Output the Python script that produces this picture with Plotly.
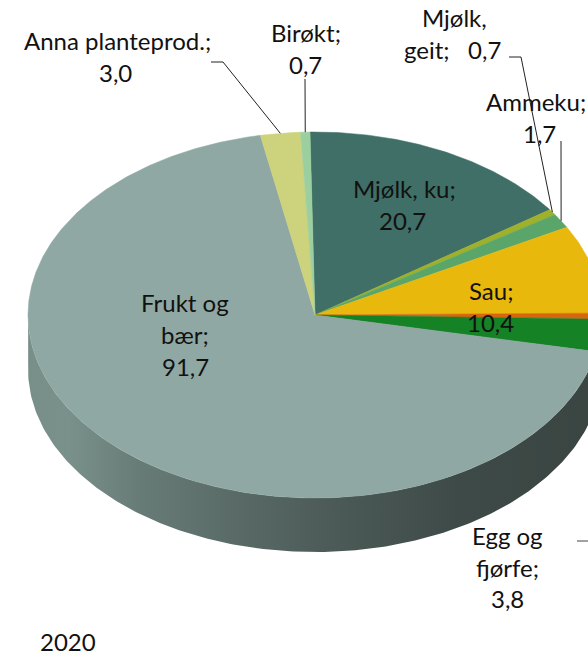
import numpy as np
import plotly.graph_objects as go

# Clockwise from the start angle; the unlabelled sliver is cut off at the right edge.
categories = ["Mjølk, ku", "Mjølk, geit", "Ammeku", "Sau", "", "Egg og fjørfe",
              "Frukt og bær", "Anna planteprod.", "Birøkt"]
values = [20.7, 0.7, 1.7, 10.4, 0.7, 3.8, 91.7, 3.0, 0.7]
colors = ["#3f6f66", "#9fb02a", "#5aa66a", "#e8b80c", "#d8660e", "#148225",
          "#8fa8a3", "#cdd27c", "#9ccf9f"]

# Text lines: (text, centre x, centre y)
label_lines = [
    ("Anna planteprod.;", 117, 40), ("3,0", 115, 72),
    ("Birøkt;", 306, 32), ("0,7", 305, 64),
    ("Mjølk,", 454, 17), ("geit;   0,7", 452, 49),
    ("Ammeku;", 536, 101), ("1,7", 539, 133),
    ("Mjølk, ku;", 404, 188), ("20,7", 402, 220),
    ("Sau;", 491, 290), ("10,4", 490, 322),
    ("Frukt og", 185, 302), ("bær;", 185, 334), ("91,7", 185, 366),
    ("Egg og", 507, 535), ("fjørfe;", 507, 567), ("3,8", 507, 598),
    ("2020", 68, 641),
]

CX, CY, RX, RY, DEPTH = 315, 315, 287, 183, 54
START = -1.0
FONT = "Lato"
FONT_SIZE = 24


def rim(t_deg, dy=0.0):
    t = np.radians(t_deg)
    return CX + RX * np.sin(t), CY - RY * np.cos(t) + dy


total = sum(values)
edges = START + np.cumsum([0] + values) / total * 360
mids = (edges[:-1] + edges[1:]) / 2

fig = go.Figure()

# Rim of the disc
ts = np.linspace(88, 272, 240)
xt, yt = rim(ts)
xb, yb = rim(ts, DEPTH)
fig.add_trace(go.Scatter(
    x=np.r_[xt, xb[::-1]], y=np.r_[yt, yb[::-1]], mode="lines",
    line=dict(width=0), fill="toself", hoverinfo="skip",
    fillgradient=dict(type="horizontal", colorscale=[
        [0.0, "#3a4542"], [0.25, "#3e4a47"], [0.5, "#4e5d59"],
        [0.8, "#677b76"], [0.93, "#7a908a"], [1.0, "#788e89"]],
        start=602, stop=28),
))

# Top face
for name, v, c, a, b in zip(categories, values, colors, edges[:-1], edges[1:]):
    n = max(4, int((b - a) * 2))
    xs, ys = rim(np.linspace(a, b, n))
    fig.add_trace(go.Scatter(
        x=np.r_[CX, xs, CX], y=np.r_[CY, ys, CY], mode="lines", name=name,
        line=dict(width=0.5, color=c), fill="toself", fillcolor=c,
        hovertemplate=f"{name}: {v}<extra></extra>",
    ))

# Leader lines
leader_start = {
    "Anna planteprod.": [(211, 62), (223, 62)],
    "Birøkt": [(305, 79)],
    "Mjølk, geit": [(509, 57), (521, 57)],
    "Ammeku": [(561, 141)],
}
for name, pts in leader_start.items():
    ex, ey = rim(mids[categories.index(name)])
    px = [p[0] for p in pts] + [ex]
    py = [p[1] for p in pts] + [ey]
    fig.add_trace(go.Scatter(x=px, y=py, mode="lines", hoverinfo="skip",
                             line=dict(color="#222222", width=1)))
fig.add_trace(go.Scatter(x=[577, 588], y=[541, 541], mode="lines", hoverinfo="skip",
                         line=dict(color="#444444", width=1)))

annotations = [
    dict(x=x, y=y, text=t, showarrow=False, xanchor="center", yanchor="middle",
         font=dict(family=FONT, size=FONT_SIZE, color="#111111"))
    for t, x, y in label_lines
]

fig.update_layout(
    width=588, height=658, margin=dict(l=0, r=0, t=0, b=0),
    paper_bgcolor="white", plot_bgcolor="white", showlegend=False,
    xaxis=dict(range=[0, 588], visible=False, fixedrange=True),
    yaxis=dict(range=[658, 0], visible=False, fixedrange=True),
    annotations=annotations,
)
fig.write_html("out.html", config={"displayModeBar": False},
               post_script="document.body.style.margin='0';document.documentElement.style.overflow='hidden';")
